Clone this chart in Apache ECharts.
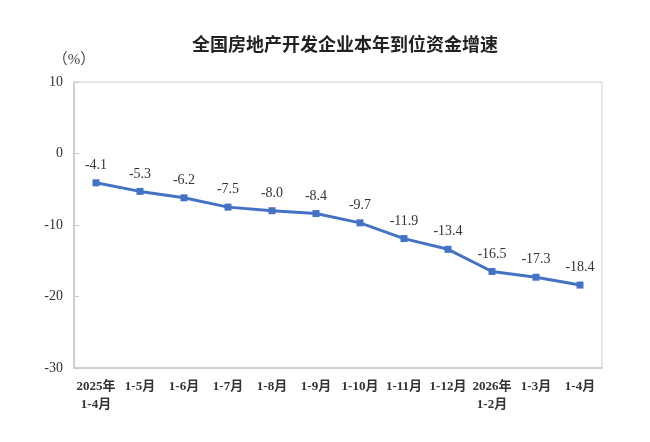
<!DOCTYPE html>
<html>
<head>
<meta charset="utf-8">
<script src="https://cdn.jsdelivr.net/npm/echarts@6/dist/echarts.min.js"></script>
<style>
  html, body { margin: 0; padding: 0; background: #fff; }
  #chart { width: 650px; height: 442px; }
</style>
</head>
<body>
<div id="chart"></div>
<script>
// 全国房地产开发企业本年到位资金增速
const titre = '全国房地产开发企业本年到位资金增速';
const mois = ['2025年\n1-4月', '1-5月', '1-6月', '1-7月', '1-8月', '1-9月',
              '1-10月', '1-11月', '1-12月', '2026年\n1-2月', '1-3月', '1-4月'];
const croissance = [-4.1, -5.3, -6.2, -7.5, -8.0, -8.4, -9.7, -11.9, -13.4, -16.5, -17.3, -18.4];
const yMin = -30, yMax = 10, yPas = 10;

const policeSerif = '"Liberation Serif", "Noto Sans CJK SC", serif';

var myChart = echarts.init(document.getElementById('chart'), null, { renderer: 'canvas' });

myChart.setOption({
    animation: false,
    title: {
        text: titre,
        left: 340,
        top: 30,
        textAlign: 'center',
        textStyle: {
            fontFamily: '"Noto Sans CJK SC", sans-serif',
            fontSize: 18,
            fontWeight: 'bold',
            color: '#222'
        }
    },
    grid: {
        left: 74,
        right: 48,
        top: 82,
        bottom: 74,
        show: true,
        borderColor: '#d0d0d0',
        borderWidth: 1
    },
    xAxis: {
        type: 'category',
        data: mois,
        boundaryGap: true,
        axisLine: { onZero: false, lineStyle: { color: '#c8c8c8', width: 1.5 } },
        axisTick: { inside: true, length: 5, lineStyle: { color: '#c8c8c8' } },
        axisLabel: {
            interval: 0,
            margin: 10,
            fontFamily: policeSerif,
            fontSize: 13,
            fontWeight: 'bold',
            color: '#333',
            lineHeight: 18
        }
    },
    yAxis: {
        type: 'value',
        min: yMin,
        max: yMax,
        interval: yPas,
        name: '（%）',
        nameLocation: 'end',
        nameGap: 14,
        nameTextStyle: {
            fontFamily: policeSerif,
            fontSize: 15,
            color: '#444',
            align: 'center'
        },
        axisLine: { show: true, lineStyle: { color: '#c8c8c8', width: 1.5 } },
        axisTick: { show: true, inside: true, length: 5, lineStyle: { color: '#c8c8c8' } },
        splitLine: { show: false },
        axisLabel: {
            margin: 11,
            fontFamily: policeSerif,
            fontSize: 14,
            color: '#333'
        }
    },
    series: [{
        type: 'line',
        data: croissance,
        symbol: 'rect',
        symbolSize: 7,
        lineStyle: { color: '#4472c4', width: 3 },
        itemStyle: { color: '#4472c4' },
        label: {
            show: true,
            position: 'top',
            distance: 7,
            fontFamily: policeSerif,
            fontSize: 14,
            color: '#333',
            formatter: p => p.value.toFixed(1)
        }
    }]
});
</script>
</body>
</html>
